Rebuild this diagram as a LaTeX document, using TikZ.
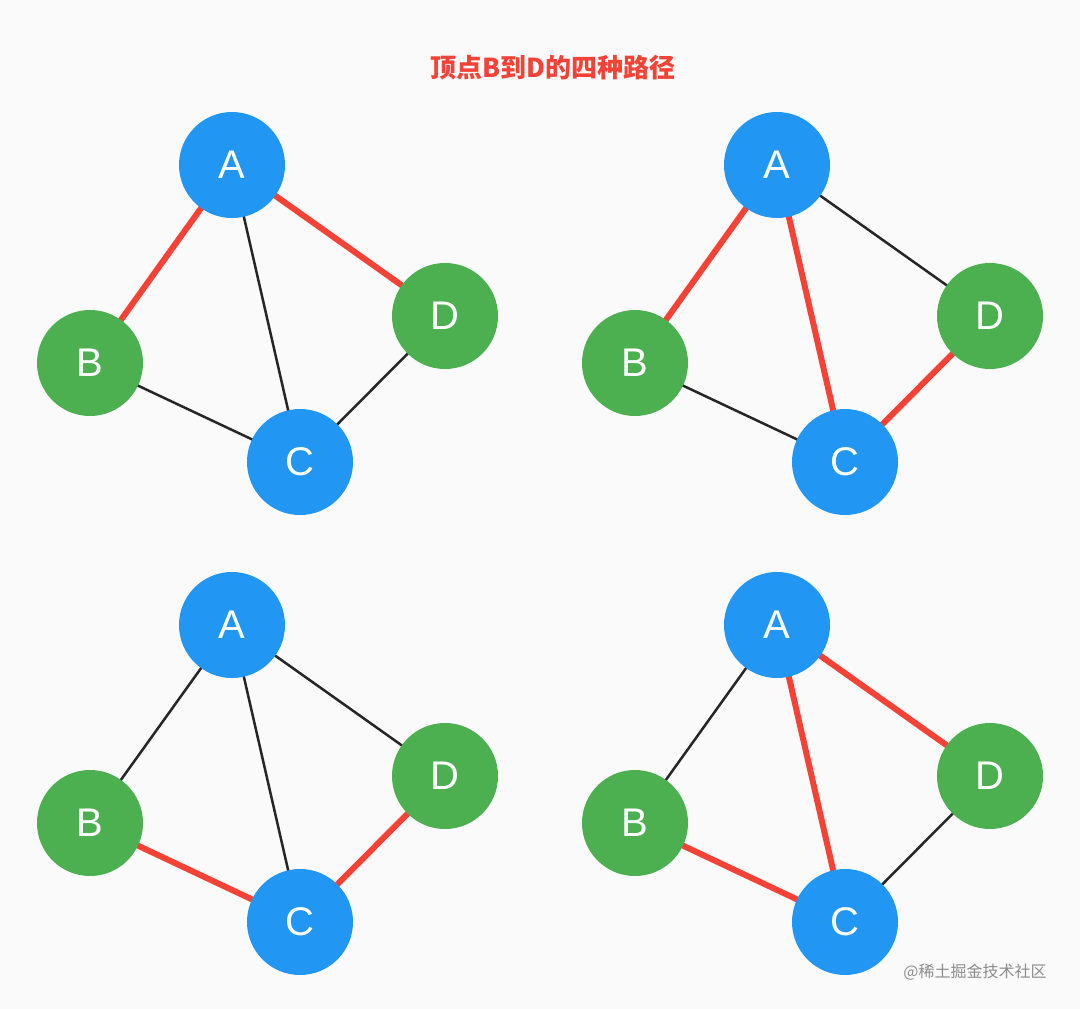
\documentclass[tikz,border=0pt]{standalone}
\usepackage{fontspec}
\setmainfont{Liberation Sans}
\newfontfamily\cjk{Noto Sans CJK SC}
\definecolor{bl}{HTML}{2196F3}
\definecolor{gr}{HTML}{4CAF50}
\definecolor{rd}{HTML}{F44336}
\definecolor{bg}{HTML}{FAFAFA}
\begin{document}
\begin{tikzpicture}[x=1pt,y=-1pt,
  vtx/.style={circle,minimum size=106pt,inner sep=0pt,text=white,font=\fontsize{40}{40}\selectfont},
  bv/.style={vtx,fill=bl},gv/.style={vtx,fill=gr},
  hot/.style={draw=rd,line width=6pt},
  cold/.style={draw=black!85,line width=2.5pt}]
\fill[bg] (0,0) rectangle (1080,1009);
\useasboundingbox (0,0) rectangle (1080,1009);
\node (title) at (553,68) {\cjk\fontsize{26}{26}\selectfont\color{rd}\bfseries 顶点B到D的四种路径};
\node (wm) at (975,972) {\cjk\fontsize{16}{16}\selectfont\color{black!45}@稀土掘金技术社区};
\foreach \i/\dx/\dy/\ab/\ad/\ac/\bc/\cd in {
  1/0/0/hot/hot/cold/cold/cold,
  2/545/0/hot/cold/hot/cold/hot,
  3/0/460/cold/cold/cold/hot/hot,
  4/545/460/cold/hot/hot/hot/cold}{
  \begin{scope}[shift={(\dx,\dy)}]
    \coordinate (pa\i) at (232,165);
    \coordinate (pb\i) at (90,363);
    \coordinate (pc\i) at (300,462);
    \coordinate (pd\i) at (445,316);
    \draw[\ab] (pa\i) -- (pb\i);
    \draw[\ad] (pa\i) -- (pd\i);
    \draw[\ac] (pa\i) -- (pc\i);
    \draw[\bc] (pb\i) -- (pc\i);
    \draw[\cd] (pc\i) -- (pd\i);
    \node[bv] (a\i) at (pa\i) {A};
    \node[gv] (b\i) at (pb\i) {B};
    \node[bv] (c\i) at (pc\i) {C};
    \node[gv] (d\i) at (pd\i) {D};
  \end{scope}}
\end{tikzpicture}
\end{document}
